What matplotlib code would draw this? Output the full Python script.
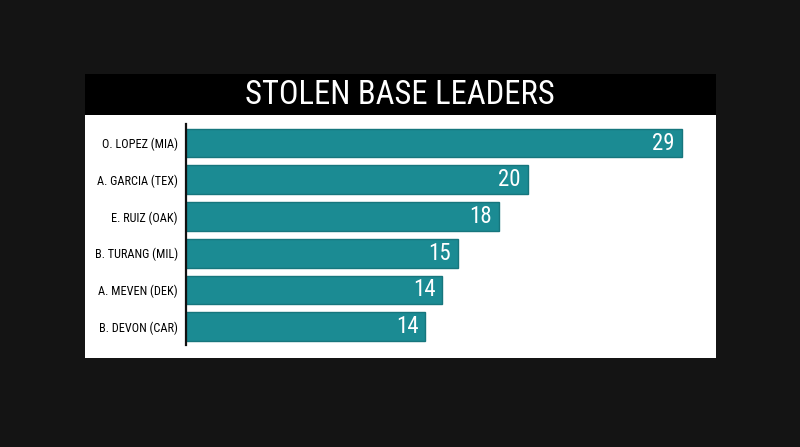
import matplotlib
matplotlib.use("Agg")
import matplotlib.pyplot as plt
from matplotlib import font_manager
from matplotlib.patches import Rectangle

# Données
joueurs = ["O. LOPEZ (MIA)", "A. GARCIA (TEX)", "E. RUIZ (OAK)",
           "B. TURANG (MIL)", "A. MEVEN (DEK)", "B. DEVON (CAR)"]
longueurs = [29, 20, 18.3, 15.9, 15.0, 14.0]   # longueur des barres
etiquettes = ["29", "20", "18", "15", "14", "14"]  # valeurs affichées

# police étroite si disponible
dispo = {f.name for f in font_manager.fontManager.ttflist}
police = 'DejaVu Sans'
for nom in ['Liberation Sans Narrow', 'DejaVu Sans Condensed', 'Roboto Condensed', 'Roboto']:
    if nom in dispo:
        police = nom
        break
plt.rcParams['font.family'] = [police, 'DejaVu Sans']

fig = plt.figure(figsize=(8, 4.47), dpi=100)
fig.patch.set_facecolor('#141414')

W, H = 800, 447
def fx(px): return px / W
def fy(py): return 1 - py / H

# fond : panneau blanc + bandeau titre
fond = fig.add_axes([0, 0, 1, 1], zorder=-1)
fond.set_xlim(0, W)
fond.set_ylim(H, 0)
fond.axis('off')
fond.add_patch(Rectangle((85, 74), 631, 284, facecolor='white', edgecolor='none'))
fond.add_patch(Rectangle((85, 74), 631, 41, facecolor='black', edgecolor='none'))
fond.text(400, 95, "STOLEN BASE LEADERS", color='white', fontsize=23.5,
          ha='center', va='center')

ax = fig.add_axes([fx(186), fy(345), fx(716) - fx(186), fy(124) - fy(345)])
ax.set_facecolor('none')
pos = list(range(len(joueurs)))
ax.barh(pos, longueurs, height=0.78, color='#1b8b93', edgecolor='#16767d', linewidth=1.0)
ax.set_xlim(0, 31.0)
ax.set_ylim(5.5, -0.52)
ax.set_yticks(pos)
ax.set_yticklabels(joueurs, fontsize=8.8, color='#000000')
ax.tick_params(axis='y', length=0, pad=6)
ax.set_xticks([])
for s in ['top', 'right', 'bottom']:
    ax.spines[s].set_visible(False)
ax.spines['left'].set_linewidth(1.6)
ax.spines['left'].set_color('#111111')

for i, (v, t) in enumerate(zip(longueurs, etiquettes)):
    ax.annotate(t, (v, i), xytext=(-5, 0), textcoords='offset points',
                ha='right', va='center', color='white', fontsize=16.5)

fig.savefig("out.png", dpi=100, facecolor=fig.get_facecolor())
